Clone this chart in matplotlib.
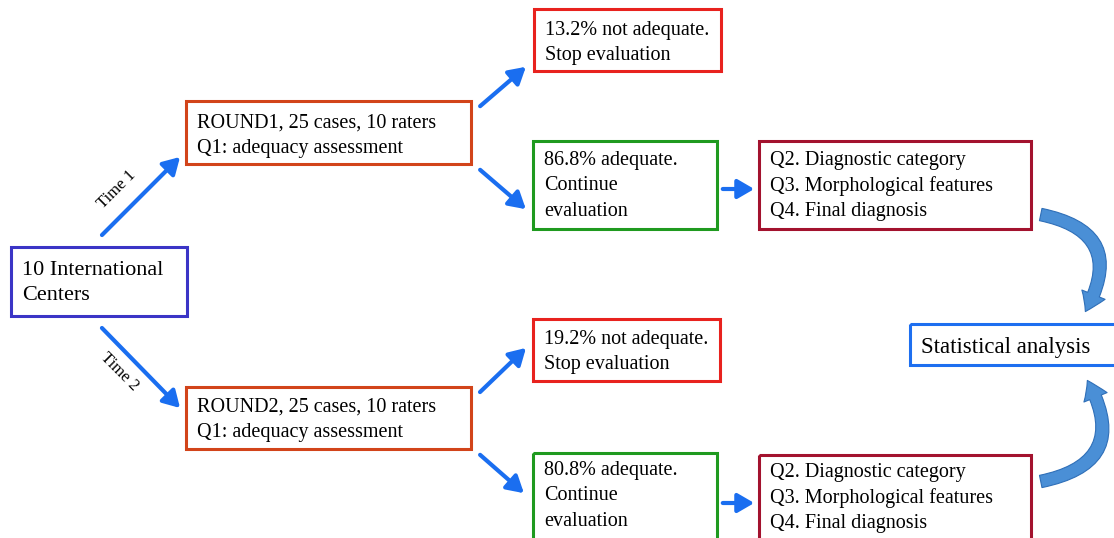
import matplotlib.pyplot as plt
from matplotlib.patches import Rectangle, FancyArrowPatch

plt.rcParams['font.family'] = ['Liberation Serif', 'DejaVu Serif']

# box data: (left, top, right, bottom) in pixels, text, edge colour
box_xy = [(11, 247, 187, 316), (186, 101, 471, 164), (534, 9, 721, 71),
          (533, 141, 717, 229), (759, 141, 1031, 229), (910, 324, 1120, 365),
          (533, 319, 720, 381), (186, 387, 471, 449), (533, 453, 717, 545),
          (759, 455, 1031, 545)]
box_text = ['10 International\nCenters',
            'ROUND1, 25 cases, 10 raters\nQ1: adequacy assessment',
            '13.2% not adequate.\nStop evaluation',
            '86.8% adequate.\nContinue\nevaluation',
            'Q2. Diagnostic category\nQ3. Morphological features\nQ4. Final diagnosis',
            'Statistical analysis',
            '19.2% not adequate.\nStop evaluation',
            'ROUND2, 25 cases, 10 raters\nQ1: adequacy assessment',
            '80.8% adequate.\nContinue\nevaluation',
            'Q2. Diagnostic category\nQ3. Morphological features\nQ4. Final diagnosis']
box_color = ['#3b35c6', '#d2441a', '#e8221e', '#1f9a1f', '#a3122e',
             '#1e6ff0', '#e8221e', '#d2441a', '#1f9a1f', '#a3122e']
text_y = [283, 136, 43, 186, 186, 347, 352, 420, 496, 498]
text_size = [16, 14.5, 14.5, 14.5, 14.5, 16.4, 14.5, 14.5, 14.5, 14.5]
line_gap = [1.42, 1.45, 1.45, 1.45, 1.45, 1.3, 1.45, 1.45, 1.45, 1.45]

# straight arrows: start, end
arrows = [((100, 237), (182, 155)), ((100, 326), (182, 410)),
          ((478, 108), (528, 65)), ((478, 168), (528, 211)),
          ((720, 189), (757, 189)), ((478, 394), (528, 346)),
          ((478, 453), (526, 495)), ((720, 503), (757, 503))]

fig = plt.figure(figsize=(11.14, 5.38), dpi=100)
ax = fig.add_axes([0, 0, 1, 1])
ax.set_xlim(0, 1114)
ax.set_ylim(538, 0)
ax.axis('off')

for (x0, y0, x1, y1), txt, col, ty, fs, ls in zip(box_xy, box_text, box_color, text_y, text_size, line_gap):
    ax.add_patch(Rectangle((x0, y0), x1 - x0, y1 - y0, fill=False, edgecolor=col, linewidth=2.2))
    ax.text(x0 + 11, ty, txt, fontsize=fs, va='center', ha='left', linespacing=ls, color='black')

for (p0, p1) in arrows:
    ax.add_patch(FancyArrowPatch(p0, p1, arrowstyle='-|>,head_length=0.55,head_width=0.32',
                                 mutation_scale=18, color='#1a6ef0', linewidth=3))

ax.text(117, 190, 'Time 1', rotation=45, fontsize=12, ha='center', va='center')
ax.text(119, 372, 'Time 2', rotation=-45, fontsize=12, ha='center', va='center')

# curved arrows to statistical analysis
ax.add_patch(FancyArrowPatch((1038, 214), (1084, 314), connectionstyle='arc3,rad=-0.7',
                             arrowstyle='simple,head_length=0.9,head_width=1.2,tail_width=0.6',
                             mutation_scale=15, facecolor='#4a8fd6', edgecolor='#2f6fb8', linewidth=0.8))
ax.add_patch(FancyArrowPatch((1038, 482), (1086, 378), connectionstyle='arc3,rad=0.7',
                             arrowstyle='simple,head_length=0.9,head_width=1.2,tail_width=0.6',
                             mutation_scale=15, facecolor='#4a8fd6', edgecolor='#2f6fb8', linewidth=0.8))

plt.savefig('out.png', dpi=100)
